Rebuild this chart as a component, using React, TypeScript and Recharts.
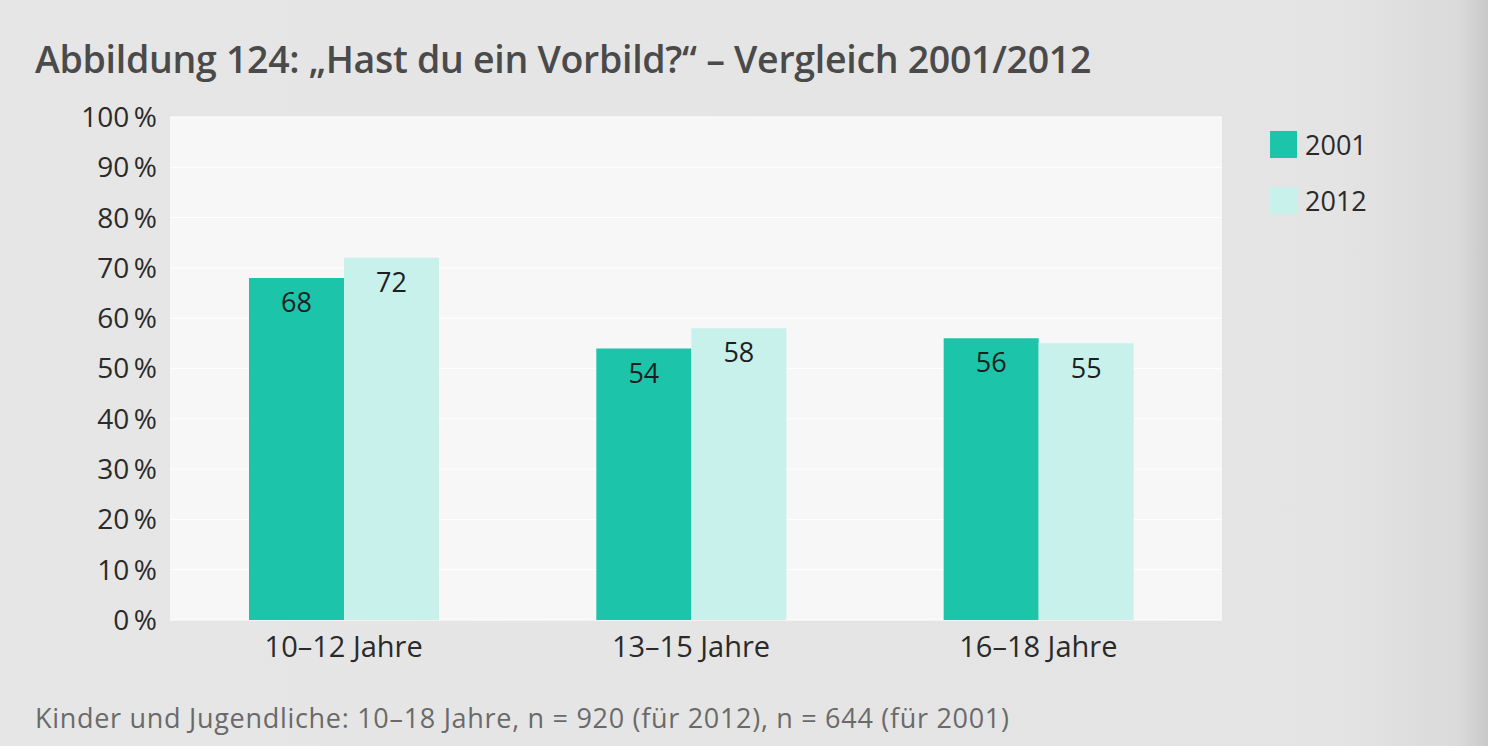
import { BarChart, Bar, XAxis, YAxis, CartesianGrid, LabelList } from 'recharts';

const categories = ['10–12 Jahre', '13–15 Jahre', '16–18 Jahre'];
const values2001 = [68, 54, 56];
const values2012 = [72, 58, 55];
const yTicks = [0, 10, 20, 30, 40, 50, 60, 70, 80, 90, 100];

const data = categories.map((name, i) => ({ name, y2001: values2001[i], y2012: values2012[i] }));

const DARK = '#1cc4aa';
const LIGHT = '#c8f1ec';
const FONT = '"Open Sans", "DejaVu Sans", sans-serif';

export default function App() {
    return (
        <div
            style={{
                position: 'absolute',
                left: 0,
                top: 0,
                width: 1488,
                height: 746,
                overflow: 'hidden',
                fontFamily: FONT,
                background: 'linear-gradient(to right, #e6e6e6 0%, #e4e4e4 90%, #dadada 98%, #c9c9c9 100%)',
            }}
        >
            {/* Title */}
            <div
                style={{
                    position: 'absolute',
                    left: 35,
                    top: 33,
                    fontSize: 37.5,
                    fontWeight: 600,
                    color: '#4a4a4a',
                    whiteSpace: 'nowrap',
                    letterSpacing: -0.3,
                }}
            >
                Abbildung 124: „Hast du ein Vorbild?“ – Vergleich 2001/2012
            </div>

            <BarChart
                width={1488}
                height={746}
                data={data}
                margin={{ top: 117, right: 266, bottom: 86, left: 20 }}
                barGap={0}
                barSize={95}
                style={{ position: 'absolute', left: 0, top: 0 }}
            >
                <CartesianGrid
                    vertical={false}
                    horizontal={true}
                    stroke="#ffffff"
                    fill="#f7f7f7"
                    fillOpacity={1}
                />
                <XAxis
                    dataKey="name"
                    axisLine={false}
                    tickLine={false}
                    tickSize={0}
                    tickMargin={16}
                    height={40}
                    padding={{ left: 0, right: 10 }}
                    tick={{ fontSize: 29, fill: '#2a2a2a', fontFamily: FONT }}
                />
                <YAxis
                    domain={[0, 100]}
                    ticks={yTicks}
                    interval={0}
                    axisLine={false}
                    tickLine={false}
                    tickSize={0}
                    tickMargin={13}
                    width={150}
                    tickFormatter={(v: number) => `${v}\u2009%`}
                    tick={{ fontSize: 28, fill: '#2a2a2a', fontFamily: FONT }}
                />
                <Bar dataKey="y2001" fill={DARK} isAnimationActive={false}>
                    <LabelList
                        dataKey="y2001"
                        position="insideTop"
                        offset={15}
                        style={{ fontSize: 27, fill: '#1e1e1e', fontFamily: FONT }}
                    />
                </Bar>
                <Bar dataKey="y2012" fill={LIGHT} isAnimationActive={false}>
                    <LabelList
                        dataKey="y2012"
                        position="insideTop"
                        offset={15}
                        style={{ fontSize: 27, fill: '#1e1e1e', fontFamily: FONT }}
                    />
                </Bar>
            </BarChart>

            {/* Legend */}
            <div style={{ position: 'absolute', left: 1270, top: 129, fontSize: 27, color: '#2a2a2a' }}>
                <div style={{ display: 'flex', alignItems: 'center', height: 30 }}>
                    <span style={{ width: 27, height: 27, background: DARK, display: 'inline-block', marginRight: 8 }} />
                    2001
                </div>
                <div style={{ display: 'flex', alignItems: 'center', height: 30, marginTop: 26 }}>
                    <span style={{ width: 27, height: 27, background: LIGHT, display: 'inline-block', marginRight: 8 }} />
                    2012
                </div>
            </div>

            {/* Footnote */}
            <div
                style={{
                    position: 'absolute',
                    left: 35,
                    top: 699,
                    fontSize: 27,
                    color: '#6a6a6a',
                    whiteSpace: 'nowrap',
                    letterSpacing: 0.7,
                }}
            >
                Kinder und Jugendliche: 10–18 Jahre, n = 920 (für 2012), n = 644 (für 2001)
            </div>
        </div>
    );
}
